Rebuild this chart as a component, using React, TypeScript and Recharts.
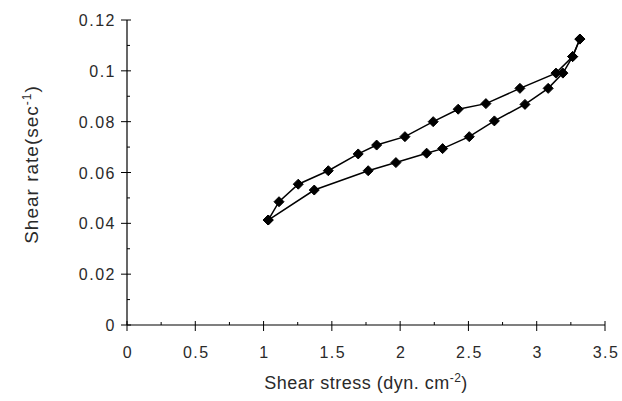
import React from 'react';
import { LineChart, Line, XAxis, YAxis } from 'recharts';

const upX = [1.034, 1.113, 1.254, 1.474, 1.693, 1.828, 2.035, 2.242, 2.425, 2.628, 2.877, 3.141, 3.263, 3.316];
const upY = [0.0413, 0.0485, 0.0554, 0.0607, 0.0673, 0.0708, 0.0741, 0.08, 0.0849, 0.0871, 0.0931, 0.0991, 0.1056, 0.1125];
const downX = [1.034, 1.371, 1.766, 1.969, 2.194, 2.311, 2.506, 2.69, 2.914, 3.084, 3.192, 3.263, 3.316];
const downY = [0.0413, 0.0531, 0.0607, 0.0639, 0.0676, 0.0694, 0.0741, 0.0803, 0.0868, 0.0931, 0.0991, 0.1056, 0.1125];

const xTicks = [0, 0.25, 0.5, 0.75, 1, 1.25, 1.5, 1.75, 2, 2.25, 2.5, 2.75, 3, 3.25, 3.5];
const xMajorLabels = ['0', '0.5', '1', '1.5', '2', '2.5', '3', '3.5'];
const yTicks = [0, 0.01, 0.02, 0.03, 0.04, 0.05, 0.06, 0.07, 0.08, 0.09, 0.1, 0.11, 0.12];
const yMajorLabels = ['0', '0.02', '0.04', '0.06', '0.08', '0.1', '0.12'];

const upData = upX.map((x, i) => ({ x, y: upY[i] }));
const downData = downX.map((x, i) => ({ x, y: downY[i] }));

const TXT = '#2a2a2a';
const FONT = 'Arial, "Liberation Sans", sans-serif';

const XTick = (props: any) => {
  const { x, y, payload } = props;
  const v = payload.value;
  const idx = Math.round(v * 4);
  const major = idx % 2 === 0;
  if (!major) {
    return <line x1={x} x2={x} y1={y - 3} y2={y} stroke="#000" strokeWidth={1} />;
  }
  return (
    <g>
      <line x1={x} x2={x} y1={y - 4} y2={y + 6} stroke="#000" strokeWidth={1} />
      <text x={x + 1} y={y + 33} textAnchor="middle" fontSize={16} letterSpacing={1.5} fill={TXT} fontFamily={FONT}>
        {xMajorLabels[idx / 2]}
      </text>
    </g>
  );
};

const YTick = (props: any) => {
  const { x, y, payload } = props;
  const v = payload.value;
  const idx = Math.round(v * 100);
  const major = idx % 2 === 0;
  if (!major) {
    return <line x1={x} x2={x + 3} y1={y} y2={y} stroke="#000" strokeWidth={1} />;
  }
  return (
    <g>
      <line x1={x - 6} x2={x + 4} y1={y} y2={y} stroke="#000" strokeWidth={1} />
      <text x={x - 11} y={y + 6} textAnchor="end" fontSize={16} letterSpacing={1.5} fill={TXT} fontFamily={FONT}>
        {yMajorLabels[idx / 2]}
      </text>
    </g>
  );
};

const Dot = (props: any) => {
  const { cx, cy } = props;
  if (cx == null || cy == null) return null;
  const r = 5;
  return (
    <polygon
      points={`${cx},${cy - r} ${cx + r},${cy} ${cx},${cy + r} ${cx - r},${cy}`}
      fill="#000"
      stroke="#000"
      strokeWidth={1}
    />
  );
};

const XLabel = (props: any) => {
  const vb = props.viewBox;
  return (
    <text x={vb.x + vb.width / 2} y={vb.y + 64} textAnchor="middle" fontSize={18} letterSpacing={0.5} fill={TXT} fontFamily={FONT}>
      Shear stress (dyn. cm
      <tspan dy={-7} fontSize={12}>-2</tspan>
      <tspan dy={7}>)</tspan>
    </text>
  );
};

const YLabel = (props: any) => {
  const vb = props.viewBox;
  const cx = vb.x - 29;
  const cy = vb.y + vb.height / 2 - 8;
  return (
    <text
      x={cx}
      y={cy}
      transform={`rotate(-90, ${cx}, ${cy})`}
      textAnchor="middle"
      fontSize={19}
      letterSpacing={1}
      fill={TXT}
      fontFamily={FONT}
    >
      Shear rate(sec
      <tspan dy={-7} fontSize={12}>-1</tspan>
      <tspan dy={7}>)</tspan>
    </text>
  );
};

export default function App() {
  return (
    <div style={{ position: 'absolute', left: 0, top: 0, background: '#fff' }}>
      <LineChart width={622} height={401} margin={{ top: 20, right: 17, bottom: 46, left: 67 }}>
        <XAxis
          dataKey="x"
          type="number"
          domain={[0, 3.5]}
          ticks={xTicks}
          interval={0}
          tickSize={0}
          tickMargin={0}
          tickLine={false}
          tick={<XTick />}
          height={30}
          axisLine={{ stroke: '#000', strokeWidth: 1.2 }}
          allowDuplicatedCategory={false}
          label={<XLabel />}
        />
        <YAxis
          dataKey="y"
          type="number"
          domain={[0, 0.12]}
          ticks={yTicks}
          interval={0}
          tickSize={0}
          tickMargin={0}
          tickLine={false}
          tick={<YTick />}
          width={60}
          axisLine={{ stroke: '#000', strokeWidth: 1.2 }}
          label={<YLabel />}
        />
        <Line
          data={upData}
          dataKey="y"
          stroke="#000"
          strokeWidth={1.5}
          dot={<Dot />}
          activeDot={false}
          isAnimationActive={false}
        />
        <Line
          data={downData}
          dataKey="y"
          stroke="#000"
          strokeWidth={1.5}
          dot={<Dot />}
          activeDot={false}
          isAnimationActive={false}
        />
      </LineChart>
    </div>
  );
}
